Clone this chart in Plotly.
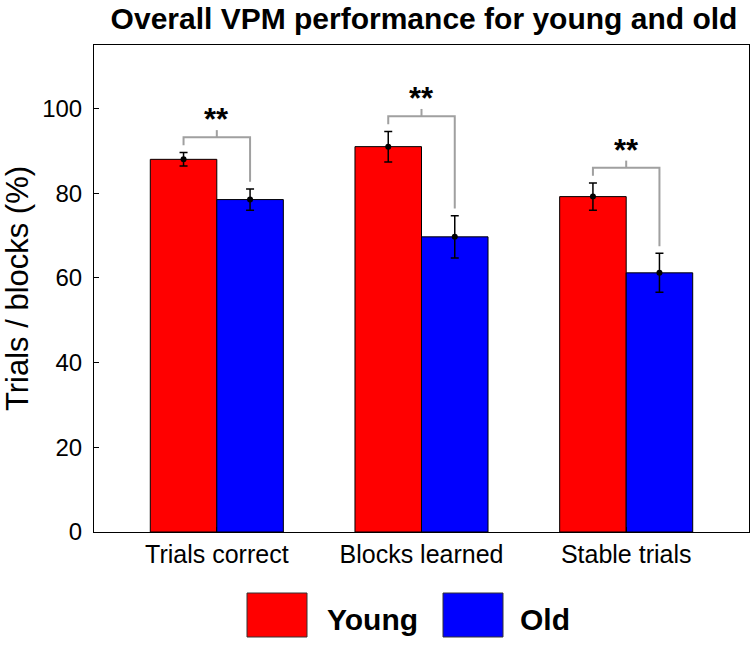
import plotly.graph_objects as go

categories = ["Trials correct", "Blocks learned", "Stable trials"]
young = [88.0, 91.0, 79.2]
old = [78.5, 69.7, 61.2]
young_err = [1.6, 3.6, 3.2]
old_err = [2.5, 5.0, 4.6]
sig_labels = ["**", "**", "**"]

xpos = [1, 2, 3]
bw = 0.325
fig = go.Figure()

fig.add_trace(go.Bar(x=xpos, y=young, name="Young", marker=dict(color="#FF0000", line=dict(color="black", width=1)),
                     offsetgroup="y", width=bw, offset=-bw))
fig.add_trace(go.Bar(x=xpos, y=old, name="Old", marker=dict(color="#0000FF", line=dict(color="black", width=1)),
                     offsetgroup="o", width=bw, offset=0))

xy = [x - bw / 2 for x in xpos]
xo = [x + bw / 2 for x in xpos]
fig.add_trace(go.Scatter(x=xy, y=young, mode="markers", marker=dict(color="black", size=6),
                         error_y=dict(type="data", array=young_err, color="black", thickness=1.5, width=4),
                         showlegend=False, hoverinfo="skip"))
fig.add_trace(go.Scatter(x=xo, y=old, mode="markers", marker=dict(color="black", size=6),
                         error_y=dict(type="data", array=old_err, color="black", thickness=1.5, width=4),
                         showlegend=False, hoverinfo="skip"))

# significance brackets
for i in range(3):
    ty = young[i] + young_err[i]
    to = old[i] + old_err[i]
    level = max(ty, to) + 3.6
    bx = [xy[i], xy[i], xo[i], xo[i]]
    by = [ty + 1.7, level, level, to + 1.7]
    fig.add_trace(go.Scatter(x=bx, y=by, mode="lines", line=dict(color="#a0a0a0", width=2),
                             showlegend=False, hoverinfo="skip"))
    fig.add_trace(go.Scatter(x=[xpos[i], xpos[i]], y=[level, level + 1.7], mode="lines",
                             line=dict(color="#a0a0a0", width=2), showlegend=False, hoverinfo="skip"))
    fig.add_annotation(x=xpos[i], y=level - 0.5, text="<b>" + sig_labels[i] + "</b>", showarrow=False,
                       yanchor="bottom", font=dict(size=31, color="black", family="Liberation Sans"))

# custom legend
fig.add_shape(type="rect", xref="paper", yref="paper", x0=(247 - 94) / 655, x1=(307 - 94) / 655,
              y0=-(637 - 532) / 487, y1=-(593 - 532) / 487, fillcolor="#FF0000", line=dict(color="#333", width=1))
fig.add_shape(type="rect", xref="paper", yref="paper", x0=(443 - 94) / 655, x1=(503 - 94) / 655,
              y0=-(637 - 532) / 487, y1=-(593 - 532) / 487, fillcolor="#0000FF", line=dict(color="#333", width=1))
fig.add_annotation(xref="paper", yref="paper", x=(325 - 94) / 655, y=-(619 - 532) / 487, text="<b>Young</b>",
                   showarrow=False, xanchor="left", yanchor="middle",
                   font=dict(size=30, color="black", family="Liberation Sans"))
fig.add_annotation(xref="paper", yref="paper", x=(518 - 94) / 655, y=-(619 - 532) / 487, text="<b>Old</b>",
                   showarrow=False, xanchor="left", yanchor="middle",
                   font=dict(size=30, color="black", family="Liberation Sans"))

fig.update_layout(
    width=756, height=646,
    margin=dict(l=94, r=7, t=45, b=114),
    plot_bgcolor="white", paper_bgcolor="white",
    showlegend=False,
    title=dict(text="<b>Overall VPM performance for young and old</b>", x=424 / 756, xanchor="center",
               y=1 - 18 / 646, yanchor="middle", font=dict(size=30, color="black", family="Liberation Sans")),
    font=dict(family="Liberation Sans", color="black"),
    bargap=0.35,
)
fig.update_xaxes(range=[0.4, 3.6], tickvals=xpos, ticktext=categories, showline=True, linecolor="black",
                 linewidth=1, mirror=True, ticks="inside", ticklen=5, tickcolor="black",
                 tickfont=dict(size=25, color="black"), showgrid=False, zeroline=False)
fig.update_yaxes(range=[0, 115], tickvals=[0, 20, 40, 60, 80, 100], showline=True, linecolor="black",
                 linewidth=1, mirror=True, ticks="inside", ticklen=5, tickcolor="black",
                 tickfont=dict(size=24, color="black"), showgrid=False, zeroline=False, ticklabelstandoff=6,
                 title=dict(text="Trials / blocks (%)", font=dict(size=31, color="black"), standoff=12))

fig.write_html("out.html", post_script="document.body.style.margin='0';", config={"displayModeBar": False})
